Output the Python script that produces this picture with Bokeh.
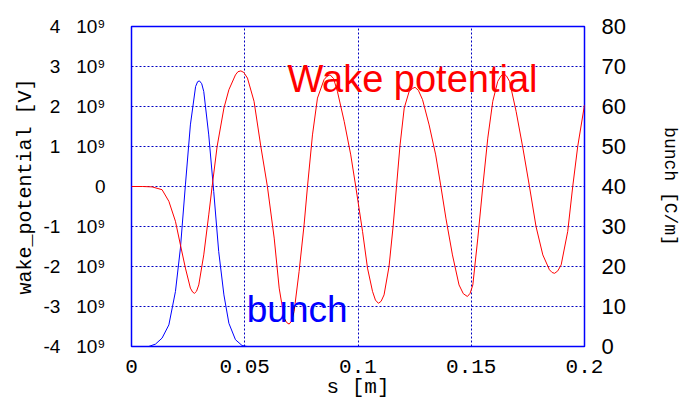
from bokeh.plotting import figure
from bokeh.models import Range1d, LinearAxis, FixedTicker, CustomJSTickFormatter, Label
from bokeh.embed import file_html
from bokeh.resources import INLINE

# ---- data ----
s_wake = [0.0, 0.005, 0.0091, 0.0135, 0.0165, 0.0194, 0.0216, 0.0238, 0.026, 0.027, 0.0278,
          0.0287, 0.0297, 0.0319, 0.0341, 0.0356, 0.0378, 0.0408, 0.043, 0.0459, 0.047, 0.0483,
          0.0496, 0.0512, 0.0541, 0.0571, 0.060, 0.063, 0.0652, 0.0674, 0.0685, 0.0696,
          0.0707, 0.0718, 0.074, 0.0762, 0.0777, 0.0799, 0.0821, 0.085, 0.0864, 0.0877,
          0.0892, 0.0909, 0.0939, 0.0968, 0.099, 0.102, 0.1042, 0.1064, 0.1077, 0.109,
          0.1102, 0.1115, 0.1137, 0.1155, 0.117, 0.1185, 0.1204, 0.1226, 0.124, 0.1252,
          0.1267, 0.1285, 0.1314, 0.1343, 0.1366, 0.1388, 0.1417, 0.1446, 0.1465, 0.1483,
          0.1495, 0.1507, 0.1529, 0.1551, 0.1573, 0.1595, 0.1617, 0.1631, 0.1644, 0.1656,
          0.1669, 0.1698, 0.1728, 0.1757, 0.1786, 0.1816, 0.1845, 0.1857, 0.1868, 0.1882,
          0.1897, 0.1926, 0.1948, 0.197, 0.2]
# wake potential in units of 1e9 V
wake_gv = [0, 0, -0.01, -0.08, -0.37, -0.87, -1.46, -2.04, -2.54, -2.64, -2.67,
           -2.62, -2.46, -1.71, -0.71, 0, 1.0, 1.96, 2.42, 2.79, 2.87, 2.89,
           2.85, 2.71, 2.13, 1.0, 0, -1.29, -2.54, -3.29, -3.40, -3.44,
           -3.36, -3.12, -2.12, -0.96, 0, 1.29, 2.21, 2.67, 2.76, 2.79,
           2.70, 2.38, 1.63, 0.79, 0, -1.12, -2.04, -2.62, -2.84, -2.92,
           -2.87, -2.71, -2.0, -1.0, 0, 1.0, 1.96, 2.38, 2.45, 2.48,
           2.40, 2.17, 1.54, 0.79, 0, -0.79, -1.71, -2.46, -2.68, -2.75,
           -2.67, -2.46, -1.29, 0, 1.21, 2.13, 2.63, 2.76, 2.82, 2.76,
           2.63, 1.88, 0.96, 0, -1.0, -1.71, -2.08, -2.15, -2.17, -2.11,
           -1.96, -1.12, 0, 1.0, 2.04]

s_bunch = [0.0, 0.0076, 0.0106, 0.0135, 0.0165, 0.0194, 0.0216, 0.0238, 0.026, 0.0283,
           0.0292, 0.030, 0.031, 0.0319, 0.0341, 0.0363, 0.0385, 0.0408, 0.043, 0.0459,
           0.0488, 0.051, 0.2]
bunch = [0, 0, 0.6, 2.1, 5.4, 13.75, 24.6, 40.4, 55.4, 65.0,
         66.2, 66.4, 65.7, 63.75, 52.9, 38.75, 23.75, 12.9, 5.8, 1.7,
         0.25, 0, 0]

x_ticks = [0, 0.05, 0.1, 0.15, 0.2]
left_ticks = [-4, -3, -2, -1, 0, 1, 2, 3, 4]
right_ticks = [0, 10, 20, 30, 40, 50, 60, 70, 80]

wake_label = ("Wake potential", 0.0689, 2.685)
bunch_label = ("bunch", 0.0509, -3.08)

GRID = "#0000c0"

p = figure(width=683, height=402, output_backend="svg", toolbar_location=None,
           x_range=Range1d(0, 0.2), y_range=Range1d(-4, 4),
           min_border_left=131, min_border_right=99, min_border_top=26, min_border_bottom=56,
           background_fill_color="white", border_fill_color="white")
p.extra_y_ranges = {"bunch": Range1d(0, 80)}

p.outline_line_color = "#0000ff"
p.outline_line_width = 1.5
p.outline_line_alpha = 1.0

# x axis
p.xaxis.ticker = FixedTicker(ticks=x_ticks)
p.xaxis.formatter = CustomJSTickFormatter(
    code="var s = tick.toFixed(2).replace(/0+$/, ''); if (s.endsWith('.')) s = s.slice(0, -1); return s;")
p.xaxis.axis_label = "s [m]"
p.xaxis.major_label_text_font = "Liberation Mono"
p.xaxis.major_label_text_font_size = "21px"
p.xaxis.major_label_standoff = 7
p.xaxis.axis_label_standoff = 0

# left axis
p.yaxis.ticker = FixedTicker(ticks=left_ticks)
p.yaxis.formatter = CustomJSTickFormatter(
    code="if (Math.abs(tick) < 1e-9) return '0'; return tick.toFixed(0) + '\u00a0\u00a0\u00a010\u2079';")
p.yaxis.axis_label = "wake_potential [V]"
p.yaxis.major_label_text_font = "Liberation Sans"
p.yaxis.major_label_text_font_size = "19px"
p.yaxis.major_label_standoff = 20
p.yaxis.axis_label_standoff = 3

# right axis
ra = LinearAxis(y_range_name="bunch", ticker=FixedTicker(ticks=right_ticks),
                axis_label="bunch [C/m]")
ra.major_label_text_font = "Liberation Sans"
ra.major_label_text_font_size = "22px"
ra.major_label_standoff = 11
ra.axis_label_standoff = 31
p.add_layout(ra, "right")

for ax in [p.xaxis[0], p.yaxis[0], ra]:
    ax.axis_line_color = None
    ax.major_tick_line_color = None
    ax.minor_tick_line_color = None
    ax.major_label_text_color = "black"
    ax.axis_label_text_color = "black"
    ax.axis_label_text_font = "Liberation Mono"
    ax.axis_label_text_font_style = "normal"
    ax.axis_label_text_font_size = "20px"
ra.axis_label_text_font_size = "18px"
p.xaxis.axis_label_text_font_size = "21px"

p.xgrid.ticker = FixedTicker(ticks=x_ticks)
for g in [p.xgrid[0], p.ygrid[0]]:
    g.grid_line_color = GRID
    g.grid_line_dash = "2 2"
    g.grid_line_width = 1
    g.grid_line_alpha = 1.0

p.line(s_bunch, bunch, color="#0000ff", line_width=1, y_range_name="bunch")
p.line(s_wake, wake_gv, color="#ff0000", line_width=1)

p.add_layout(Label(x=wake_label[1], y=wake_label[2], text=wake_label[0],
                   text_color="#ff0000", text_font="Liberation Sans",
                   text_font_size="38px", text_baseline="alphabetic"))
p.add_layout(Label(x=bunch_label[1], y=bunch_label[2], text=bunch_label[0],
                   text_color="#0000ff", text_font="Liberation Sans",
                   text_font_size="37px", text_baseline="alphabetic"))

open("out.html", "w").write(file_html(p, INLINE))
